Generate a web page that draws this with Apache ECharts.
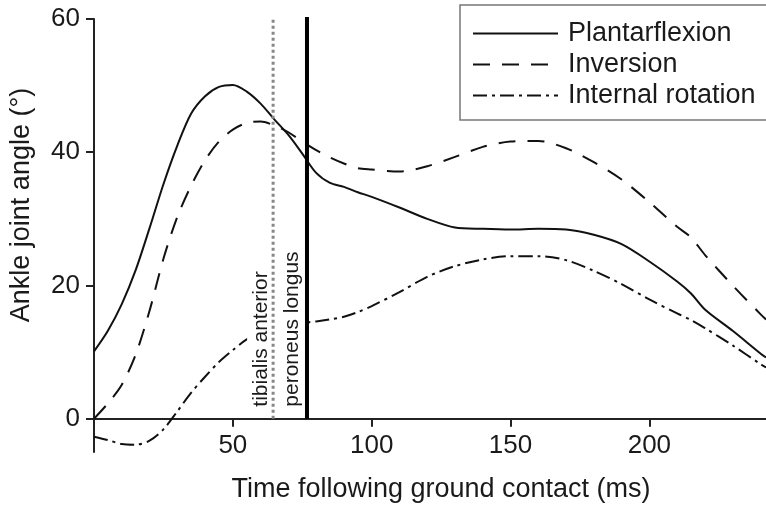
<!DOCTYPE html>
<html>
<head>
<meta charset="utf-8">
<script src="https://cdn.jsdelivr.net/npm/echarts@6/dist/echarts.min.js"></script>
<style>
html, body { margin: 0; background: #fff; }
#chart { width: 766px; height: 507px; }
</style>
</head>
<body>
<div id="chart"></div>
<script>
// time after ground contact (ms)
var time = [0, 5, 10, 15, 20, 25, 30, 35, 40, 45, 50, 55, 60, 65, 70, 75, 80, 85, 90, 95,
            100, 110, 120, 130, 140, 150, 160, 170, 180, 190, 200, 210, 215, 220, 230, 240, 242];
var plantarflexion = [10.1, 13.2, 17.2, 22.3, 28.6, 35.2, 41.0, 45.8, 48.4, 49.8, 50.1, 49.1, 47.3, 44.9, 42.6, 39.8, 36.9, 35.4, 34.8, 34.0,
                      33.3, 31.7, 30.0, 28.7, 28.5, 28.4, 28.5, 28.4, 27.6, 26.2, 23.6, 20.6, 18.8, 16.4, 13.2, 9.8, 9.2];
var inversion = [0, 2.3, 5.1, 9.6, 16.2, 24.0, 30.3, 35.0, 38.8, 41.6, 43.4, 44.4, 44.6, 44.0, 43.0, 41.6, 40.3, 39.2, 38.3, 37.6,
                 37.4, 37.1, 37.9, 39.3, 40.8, 41.6, 41.7, 40.6, 38.5, 35.9, 32.5, 28.8, 27.2, 24.6, 20.0, 15.7, 14.9];
var internalRotation = [-2.7, -3.2, -3.8, -3.9, -3.3, -1.6, 1.1, 3.9, 6.3, 8.5, 10.3, 11.9, 12.9, 13.8, 14.2, 14.4, 14.6, 14.9, 15.3, 16.0,
                        16.9, 19.0, 21.3, 22.9, 23.9, 24.4, 24.4, 23.8, 22.2, 20.2, 17.9, 15.8, 14.8, 13.6, 11.0, 8.2, 7.7];

var xTicks = [50, 100, 150, 200];
var yTicks = [0, 20, 40, 60];

// muscle onset markers (ms)
var tibialisAnterior = 64.5;
var peroneusLongus = 76.7;
var markerRange = [0, 60.45];

var font = 'Liberation Sans, Arial, Helvetica, sans-serif';
var ink = '#1a1a1a';

function pairs(ys) {
    return time.map(function (t, i) { return [t, ys[i]]; });
}
function vertical(x) {
    return markerRange.map(function (y) { return [x, y]; });
}

var chart = echarts.init(document.getElementById('chart'));

chart.setOption({
    animation: false,
    backgroundColor: '#fff',
    grid: { left: 94, right: 0, top: 19, bottom: 55 },
    legend: {
        left: 460, top: 5, orient: 'vertical',
        selectedMode: false,
        itemWidth: 85, itemHeight: 27, itemGap: 4,
        padding: [15, 40, 11, 12],
        borderColor: '#777', borderWidth: 1.5,
        itemStyle: { color: 'rgba(0,0,0,0)', borderWidth: 0 },
        textStyle: { fontSize: 27, color: ink, fontFamily: font, lineHeight: 27, padding: [0, 0, 0, 5] },
        data: ['Plantarflexion', 'Inversion', 'Internal rotation']
    },
    xAxis: {
        type: 'value', min: 0, max: 242,
        offset: -33.3,
        axisLine: { show: true, onZero: false, lineStyle: { color: '#222', width: 2 } },
        axisTick: { show: true, length: 8, customValues: xTicks, lineStyle: { color: '#222', width: 2 } },
        axisLabel: { customValues: xTicks, fontSize: 26, color: ink, fontFamily: font, margin: 14 },
        splitLine: { show: false }
    },
    yAxis: {
        type: 'value', min: -5, max: 60,
        axisLine: { show: true, onZero: false, lineStyle: { color: '#222', width: 2 } },
        axisTick: { show: true, length: 8, customValues: yTicks, lineStyle: { color: '#222', width: 2 } },
        axisLabel: { customValues: yTicks, fontSize: 26, color: ink, fontFamily: font, margin: 14 },
        splitLine: { show: false }
    },
    series: [
        {
            name: 'Plantarflexion', type: 'line', data: pairs(plantarflexion),
            symbol: 'none', smooth: 0.3,
            lineStyle: { color: '#111', width: 2, type: 'solid' },
            itemStyle: { color: '#111' }
        },
        {
            name: 'Inversion', type: 'line', data: pairs(inversion),
            symbol: 'none', smooth: 0.3,
            lineStyle: { color: '#111', width: 2, type: [17, 12] },
            itemStyle: { color: '#111' }
        },
        {
            name: 'Internal rotation', type: 'line', data: pairs(internalRotation),
            symbol: 'none', smooth: 0.3,
            lineStyle: { color: '#111', width: 2, type: [14, 5, 3, 5] },
            itemStyle: { color: '#111' }
        },
        {
            name: 'tibialis anterior', type: 'line', data: vertical(tibialisAnterior),
            symbol: 'none', z: 5, silent: true,
            lineStyle: { color: '#888', width: 3, type: [3, 3] }
        },
        {
            name: 'peroneus longus', type: 'line', data: vertical(peroneusLongus),
            symbol: 'none', z: 5, silent: true,
            lineStyle: { color: '#000', width: 4, type: 'solid' }
        }
    ]
});

// rotated onset labels, placed against their marker lines; white backing hides the curve behind
function onsetLabel(id, text, x, gap, padTop) {
    var p = chart.convertToPixel({ gridIndex: 0 }, [x, 0]);
    return {
        type: 'text', id: id, x: p[0] - gap, y: p[1] - 12, rotation: Math.PI / 2, z: 4, silent: true,
        style: {
            text: text, font: '21px ' + font, fill: ink, align: 'left', verticalAlign: 'bottom',
            backgroundColor: '#fff', padding: [padTop, 0, 0, 0]
        }
    };
}

chart.setOption({
    graphic: [
        {
            type: 'text', id: 'yname', x: 22, y: 205, rotation: Math.PI / 2,
            style: { text: 'Ankle joint angle (°)', font: '27px ' + font, fill: ink, align: 'center', verticalAlign: 'middle' }
        },
        {
            type: 'text', id: 'xname', x: 441, y: 490,
            style: { text: 'Time following ground contact (ms)', font: '27px ' + font, fill: ink, align: 'center', verticalAlign: 'middle' }
        },
        onsetLabel('ta', 'tibialis anterior', tibialisAnterior, 1, 4),
        onsetLabel('pl', 'peroneus longus', peroneusLongus, 4, 11)
    ]
});

window.onresize = function () {
    chart.resize();
};
</script>
</body>
</html>
